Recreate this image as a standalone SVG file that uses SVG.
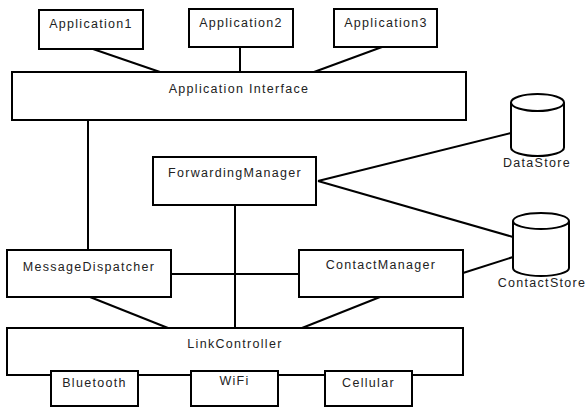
<svg xmlns="http://www.w3.org/2000/svg" width="586" height="407" viewBox="0 0 586 407">
<style>
.box{fill:#fff;stroke:#000;stroke-width:2}
.cyl{fill:#fff;stroke:#000;stroke-width:2}
.ln{stroke:#000;stroke-width:2;fill:none}
text{font-family:"Liberation Sans",Arial,sans-serif;font-size:12.5px;letter-spacing:1.3px;fill:#222;text-anchor:middle}
</style>
<rect width="586" height="407" fill="#fff"/>
<g id="connectors">
<line class="ln" x1="93" y1="49" x2="160" y2="72"/>
<line class="ln" x1="240" y1="47" x2="240" y2="72"/>
<line class="ln" x1="382" y1="47" x2="314" y2="72"/>
<line class="ln" x1="88" y1="120" x2="88" y2="250"/>
<line class="ln" x1="235" y1="205" x2="235" y2="328"/>
<line class="ln" x1="171" y1="274" x2="299" y2="274"/>
<line class="ln" x1="318" y1="181" x2="511" y2="133"/>
<line class="ln" x1="318" y1="181" x2="513" y2="237"/>
<line class="ln" x1="463" y1="273" x2="513" y2="257"/>
<line class="ln" x1="90" y1="297" x2="168" y2="328"/>
<line class="ln" x1="380" y1="297" x2="302" y2="328"/>
</g>
<g id="app1"><rect class="box" x="39" y="10" width="104" height="39"/><text x="91" y="28">Application1</text></g>
<g id="app2"><rect class="box" x="189" y="9" width="104" height="38"/><text x="241" y="27">Application2</text></g>
<g id="app3"><rect class="box" x="334" y="9" width="103" height="38"/><text x="386" y="27">Application3</text></g>
<g id="appinterface"><rect class="box" x="12" y="72" width="454" height="48"/><text x="239" y="93">Application Interface</text></g>
<g id="forwardingmanager"><rect class="box" x="153" y="157" width="163" height="48"/><text x="235" y="177">ForwardingManager</text></g>
<g id="messagedispatcher"><rect class="box" x="7" y="250" width="164" height="47"/><text x="89" y="271">MessageDispatcher</text></g>
<g id="contactmanager"><rect class="box" x="299" y="250" width="164" height="47"/><text x="381" y="269">ContactManager</text></g>
<g id="datastore">
<path class="cyl" d="M511,102.5 L511,147.5 A26.5,8.5 0 0 0 564,147.5 L564,102.5"/>
<ellipse class="cyl" cx="537.5" cy="102.5" rx="26.5" ry="8.5"/>
<text x="537" y="167">DataStore</text>
</g>
<g id="contactstore">
<path class="cyl" d="M513,221 L513,268 A28,8 0 0 0 569,268 L569,221"/>
<ellipse class="cyl" cx="541" cy="221" rx="28" ry="8"/>
<text x="542" y="287">ContactStore</text>
</g>
<g id="linkcontroller"><rect class="box" x="7" y="328" width="456" height="47"/><text x="235" y="348">LinkController</text></g>
<g id="bluetooth"><rect class="box" x="51" y="371" width="87" height="35"/><text x="94.5" y="387">Bluetooth</text></g>
<g id="wifi"><rect class="box" x="191" y="371" width="87" height="35"/><text x="234.5" y="385">WiFi</text></g>
<g id="cellular"><rect class="box" x="325" y="371" width="87" height="35"/><text x="368.5" y="387">Cellular</text></g>
</svg>
